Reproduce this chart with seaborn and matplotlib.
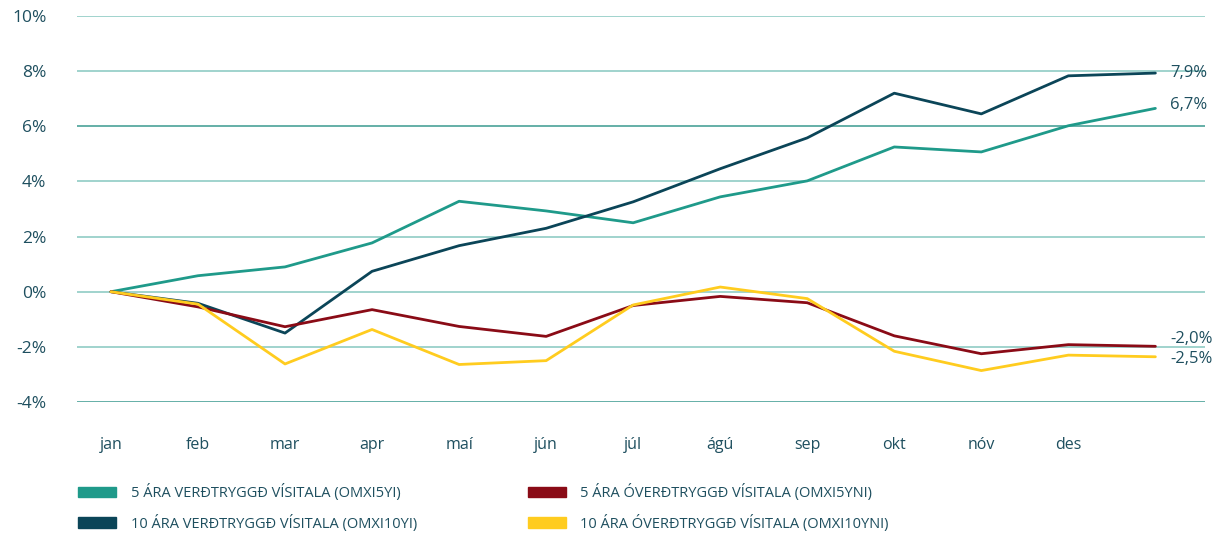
import numpy as np
import pandas as pd
import matplotlib
matplotlib.use("Agg")
import matplotlib.pyplot as plt
import matplotlib.transforms as mtransforms
from matplotlib.patches import Patch
import seaborn as sns

# DATA
months = ["jan", "feb", "mar", "apr", "maí", "jún", "júl", "ágú", "sep", "okt", "nóv", "des"]
steps = list(range(13))  # jan .. des plus year end
green_5y = [0, 0.58, 0.90, 1.77, 3.28, 2.93, 2.50, 3.44, 4.02, 5.25, 5.07, 6.02, 6.65]
dark_10y = [0, -0.42, -1.50, 0.74, 1.67, 2.30, 3.26, 4.46, 5.58, 7.20, 6.45, 7.83, 7.93]
red_5yn = [0, -0.55, -1.27, -0.65, -1.26, -1.62, -0.50, -0.17, -0.40, -1.60, -2.25, -1.92, -1.98]
yellow_10yn = [0, -0.45, -2.62, -1.37, -2.64, -2.50, -0.48, 0.17, -0.25, -2.16, -2.86, -2.30, -2.36]
end_labels = ["6,7%", "7,9%", "-2,0%", "-2,5%"]
label_dy = [3, 0, 7, -2]  # pixel offsets to keep labels apart

series_names = [
    "5 ÁRA VERÐTRYGGÐ VÍSITALA (OMXI5YI)",
    "10 ÁRA VERÐTRYGGÐ VÍSITALA (OMXI10YI)",
    "5 ÁRA ÓVERÐTRYGGÐ VÍSITALA (OMXI5YNI)",
    "10 ÁRA ÓVERÐTRYGGÐ VÍSITALA (OMXI10YNI)",
]
colors = ["#1f9a8a", "#0b4558", "#8a0b16", "#ffcc1f"]
values = [green_5y, dark_10y, red_5yn, yellow_10yn]

df = pd.concat(
    [pd.DataFrame({"step": steps, "value": v, "series": n}) for n, v in zip(series_names, values)],
    ignore_index=True,
)

sns.set_style("white")
plt.rcParams["font.family"] = ["Open Sans", "DejaVu Sans"]
text_col = "#1e4f5f"

fig = plt.figure(figsize=(12.16, 5.33), dpi=100)
ax = fig.add_axes([77 / 1216, 1 - 402 / 533, (1205 - 77) / 1216, (402 - 16) / 533])

sns.lineplot(data=df, x="step", y="value", hue="series", palette=dict(zip(series_names, colors)),
             linewidth=2.0, ax=ax, legend=False, hue_order=series_names)

ax.set_xlim(-0.39, 12.57)
ax.set_ylim(-4, 10)
ax.set_yticks(np.arange(-4, 11, 2))
ax.set_yticklabels([f"{t}%" for t in range(-4, 11, 2)], color=text_col, fontsize=12.5)
ax.set_xticks(range(len(months)))
ax.set_xticklabels(months, color=text_col, fontsize=11.5)
offset = mtransforms.ScaledTranslation(-8 / 100, 0, fig.dpi_scale_trans)
for lab in ax.get_xticklabels():
    lab.set_transform(lab.get_transform() + offset)
ax.tick_params(axis="y", length=0, pad=22)
ax.tick_params(axis="x", length=0, pad=25)
ax.set_xlabel("")
ax.set_ylabel("")

ax.grid(axis="y", color="#86c8c0", linewidth=1.1)
ax.grid(axis="x", visible=False)
ax.set_axisbelow(True)
for i, gl in enumerate(ax.get_ygridlines()):
    if i in (0, 5):
        gl.set_color("#3a9a8f")
for s in ax.spines.values():
    s.set_visible(False)

# end-of-year labels
for v, lab, dy in zip(values, end_labels, label_dy):
    ax.annotate(lab, xy=(steps[-1], v[-1]), xytext=(15, dy), textcoords="offset pixels",
                va="center", ha="left", color=text_col, fontsize=12)

handles = [Patch(color=c, label=n) for c, n in zip(colors, series_names)]
fig.legend(handles=handles, ncol=2, loc="center left", bbox_to_anchor=(65 / 1216, 1 - 508 / 533),
           frameon=False, fontsize=10.5, handlelength=2.6, handleheight=0.7, handletextpad=1.0,
           columnspacing=7.6, labelspacing=0.9, labelcolor=text_col)

fig.savefig("out.png", dpi=100)
